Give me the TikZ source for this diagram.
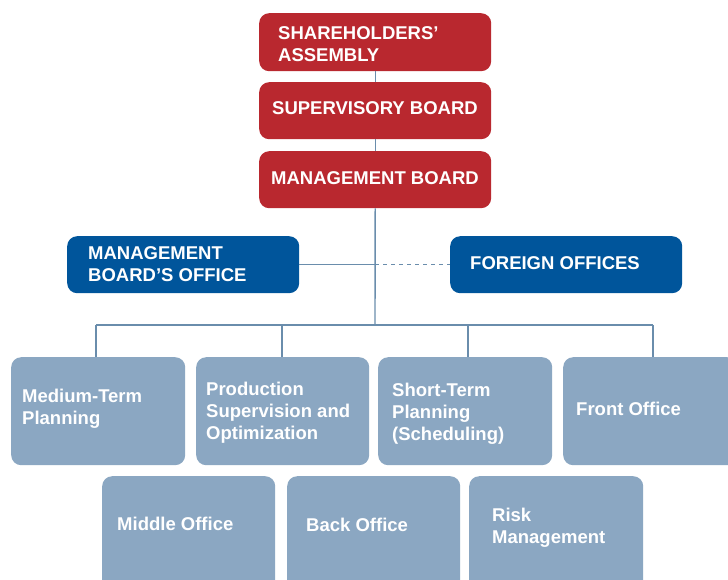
\documentclass[tikz,border=0pt]{standalone}
\usepackage{fontspec}
\setmainfont{Liberation Sans}
\definecolor{redbox}{HTML}{B9282F}
\definecolor{bluebox}{HTML}{00559B}
\definecolor{greybox}{HTML}{8BA7C2}
\definecolor{conn}{HTML}{6A8DAC}
\begin{document}
\begin{tikzpicture}[x=1pt,y=-1pt,
  box/.style={draw=none,rounded corners=10pt,anchor=north west,inner sep=0pt},
  redb/.style={box,fill=redbox},
  blueb/.style={box,fill=bluebox},
  greyb/.style={box,fill=greybox},
  txt/.style={text=white,font=\fontsize{18.5}{22}\selectfont\bfseries,align=left,inner sep=0pt,anchor=north west},
  ctxt/.style={text=white,font=\fontsize{18.5}{22}\selectfont\bfseries,inner sep=0pt,anchor=north},
  line/.style={draw=conn,line width=1.4pt},
  dline/.style={line,dash pattern=on 4pt off 4pt}]
\useasboundingbox (0,0) rectangle (728,579);
\clip (0,0) rectangle (728,579);
% boxes
\node[redb,minimum width=232pt,minimum height=58pt] (sh) at (259,13) {};
\node[redb,minimum width=232pt,minimum height=57pt] (sb) at (259,82) {};
\node[redb,minimum width=232pt,minimum height=57pt] (mb) at (259,151) {};
\node[blueb,minimum width=232pt,minimum height=57pt] (mbo) at (67,236) {};
\node[blueb,minimum width=232pt,minimum height=57pt] (fo) at (450,236) {};
\node[greyb,minimum width=174pt,minimum height=108pt] (m1) at (11,357) {};
\node[greyb,minimum width=173pt,minimum height=108pt] (m2) at (196,357) {};
\node[greyb,minimum width=174pt,minimum height=108pt] (m3) at (378,357) {};
\node[greyb,minimum width=174pt,minimum height=108pt] (m4) at (563,357) {};
\node[greyb,minimum width=173pt,minimum height=124pt] (n1) at (102,476) {};
\node[greyb,minimum width=173pt,minimum height=124pt] (n2) at (287,476) {};
\node[greyb,minimum width=174pt,minimum height=124pt] (n3) at (469,476) {};
% texts
\node[txt] (tsh) at (278,26) {SHAREHOLDERS’\\ASSEMBLY};
\node[ctxt] (tsb) at (375,101.5) {SUPERVISORY BOARD};
\node[ctxt] (tmb) at (375,171.5) {MANAGEMENT BOARD};
\node[txt] (tmbo) at (88,246) {MANAGEMENT\\BOARD’S OFFICE};
\node[txt] (tfo) at (470,256) {FOREIGN OFFICES};
\node[txt] (tm1) at (22,389) {Medium-Term\\Planning};
\node[txt] (tm2) at (206,382) {Production\\Supervision and\\Optimization};
\node[txt] (tm3) at (392,383) {Short-Term\\Planning\\(Scheduling)};
\node[txt] (tm4) at (576,402) {Front Office};
\node[txt] (tn1) at (117,517) {Middle Office};
\node[txt] (tn2) at (306,518) {Back Office};
\node[txt] (tn3) at (492,508) {Risk\\Management};
% connector points
\coordinate (bus) at (375,325);
\coordinate (trunk) at (mbo.east -| bus);
\coordinate (b1) at (96,325);
\coordinate (b2) at (282,325);
\coordinate (b3) at (468,325);
\coordinate (b4) at (653,325);
% connectors
\draw[line] (sh.south) -- (sb.north);
\draw[line] (sb.south) -- (mb.north);
\draw[line] (mb.south) -- (bus);
\draw[line] (mbo.east) -- (trunk);
\draw[dline] (trunk) -- (fo.west);
\draw[line] (b1) -- (b4);
\draw[line] (b1) -- (b1 |- m1.north);
\draw[line] (b2) -- (b2 |- m2.north);
\draw[line] (b3) -- (b3 |- m3.north);
\draw[line] (b4) -- (b4 |- m4.north);
\end{tikzpicture}
\end{document}
